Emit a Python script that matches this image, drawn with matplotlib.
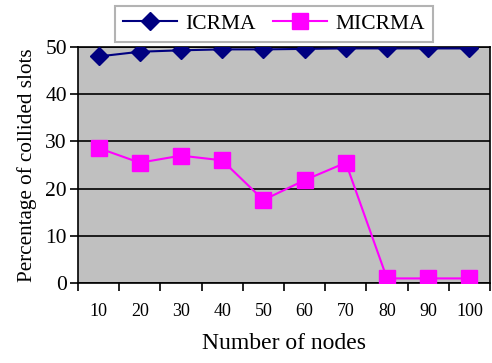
import matplotlib
matplotlib.use("Agg")
import matplotlib.pyplot as plt
import numpy as np

categories = ["10", "20", "30", "40", "50", "60", "70", "80", "90", "100"]
icrma = [48.0, 49.0, 49.3, 49.5, 49.5, 49.6, 49.7, 49.7, 49.7, 49.7]
micrma = [28.6, 25.5, 27.0, 26.0, 17.6, 21.8, 25.5, 1.0, 1.0, 1.0]
yticks = [0, 10, 20, 30, 40, 50]

plt.rcParams['font.family'] = ['Liberation Serif', 'DejaVu Serif']

fig = plt.figure(figsize=(4.92, 3.63), dpi=100)
ax = fig.add_axes([0.1585, 0.220, 0.8375, 0.6505])
ax.set_facecolor('#C0C0C0')

x = np.arange(len(categories))
ax.plot(x, icrma, color='#000080', marker='D', markersize=9, linewidth=1.5, label='ICRMA', zorder=3)
ax.plot(x, micrma, color='#FF00FF', marker='s', markersize=11, linewidth=1.5, label='MICRMA', zorder=3)

ax.set_xlim(-0.5, len(categories) - 0.5)
ax.set_ylim(0, 50)
ax.set_yticks(yticks)
ax.yaxis.grid(True, color='black', linewidth=1.2)
ax.set_axisbelow(True)

ax.set_xticks(np.arange(-0.5, len(categories), 1.0))
ax.set_xticklabels([])
ax.set_xticks(x, minor=True)
ax.set_xticklabels(categories, minor=True)
ax.tick_params(axis='x', which='minor', length=0, labelsize=13, pad=14)
ax.tick_params(axis='x', which='major', length=6, width=1.2, direction='out')
ax.tick_params(axis='y', length=6, width=1.2, labelsize=15.5, pad=2)

for s in ax.spines.values():
    s.set_linewidth(1.2)
    s.set_color('black')

ax.set_xlabel('Number of nodes', fontsize=17, labelpad=10)
ax.set_ylabel('Percentage of collided slots', fontsize=15.2, labelpad=6)

leg = fig.legend(loc='upper center', bbox_to_anchor=(0.557, 1.012), ncol=2, fontsize=15.5,
                 frameon=True, fancybox=False, edgecolor='#A0A0A0', handlelength=2.5,
                 columnspacing=0.8, borderpad=0.35, handletextpad=0.4)
leg.get_frame().set_linewidth(1.5)

fig.savefig('out.png', dpi=100)
